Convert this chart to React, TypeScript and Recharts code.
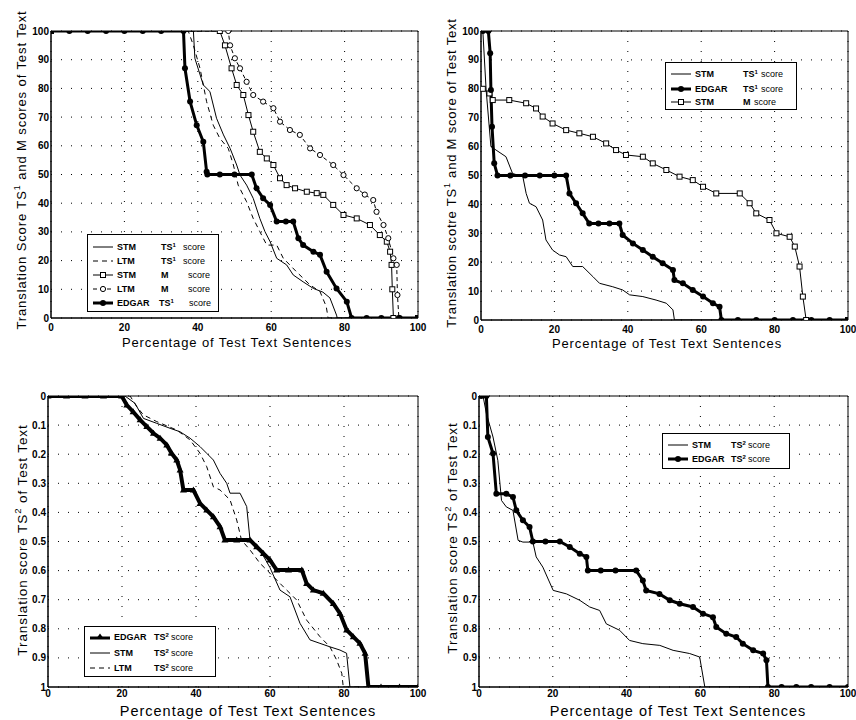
import React from 'react'
import {
  LineChart,
  Line,
  XAxis,
  YAxis,
  CartesianGrid,
  ReferenceArea,
} from 'recharts'

type Pt = [number, number]

// axis ticks
const xTicks = [0, 20, 40, 60, 80, 100]
const ts1Ticks = [0, 10, 20, 30, 40, 50, 60, 70, 80, 90, 100]
const ts2Ticks = [0, 0.1, 0.2, 0.3, 0.4, 0.5, 0.6, 0.7, 0.8, 0.9, 1]

// panel 1 (top left): TS1 and M scores
const p1StmTs1: Pt[] = [[0, 100], [38.8, 100], [39.2, 90.5], [41.5, 81.2], [43.3, 78.9], [45.1, 69.6], [47, 63.8], [48.8, 59.1], [50.6, 53.3], [51.5, 49.8], [53.3, 46.3], [55.1, 41.7], [56.9, 34.7], [58.3, 30.1], [59.7, 26.6], [61.5, 20.8], [64.2, 18.5], [66, 15], [68.7, 12.6], [71.5, 10.3], [74.1, 9], [76, 7], [77.8, 1], [78, 0], [100, 0]]
const p1LtmTs1: Pt[] = [[0, 100], [37.4, 100], [38.8, 95], [40.6, 87], [42.4, 75.4], [44.2, 67.2], [46, 62.6], [48.3, 59.1], [49.7, 53.3], [51, 46.3], [53.3, 40.5], [55.1, 34.7], [56.9, 30.1], [58.8, 25.4], [61.5, 25.4], [63.3, 20.8], [66.9, 16.1], [70.6, 11.5], [73.3, 9.2], [75, 4], [75.5, 0], [100, 0]]
const p1StmM: Pt[] = [[0, 100], [46, 100], [47.4, 95], [49.2, 87], [50.6, 81.2], [52.4, 77.7], [53.8, 70.7], [55.1, 64.9], [56.9, 57.9], [58.8, 55.6], [60.6, 53.3], [62.4, 48.7], [64.2, 46.3], [66.5, 45.2], [69.7, 44], [72.4, 43.5], [74.2, 42.9], [76.9, 39.4], [79.7, 35.9], [83.3, 34.7], [86.9, 32.4], [89.6, 28.9], [91.5, 26.6], [92.4, 23.1], [92.8, 18.5], [93, 10], [93.3, 0], [100, 0]]
const p1LtmM: Pt[] = [[0, 100], [48.3, 100], [48.8, 95], [50.1, 90.5], [51.5, 87], [53.3, 82.3], [55.1, 77.7], [57.8, 75.4], [60.6, 73.1], [62.4, 68.4], [65.1, 65.5], [67.8, 63.8], [70.6, 59.1], [73.3, 56.8], [76.9, 53.3], [79.7, 49.8], [83.3, 45.2], [85.5, 43], [87.8, 41.1], [88.7, 37], [90.6, 32.4], [91.9, 27.8], [93.3, 20.8], [94.2, 18.5], [94.4, 8], [94.8, 0], [100, 0]]
const p1Edgar: Pt[] = [[0, 100], [5, 100], [10, 100], [15, 100], [20, 100], [25, 100], [30, 100], [36.1, 100], [36.5, 87], [37.9, 75.4], [39.7, 67.2], [41.5, 61.4], [42.4, 51], [42.6, 50], [46, 50], [50, 50], [54.7, 50], [56, 45.2], [57.8, 41.7], [59.7, 39.4], [61.5, 33.6], [64, 33.6], [66, 33.6], [67.4, 27.8], [68.7, 25.4], [71.5, 23.1], [73.3, 22], [75.1, 16.1], [77.8, 10.3], [80.6, 5.7], [81.9, 0], [86, 0], [90, 0], [95, 0], [100, 0]]

// panel 2 (top right)
const p2StmTs1: Pt[] = [[0.5, 100], [1.4, 79.6], [2.7, 60], [4.1, 58.8], [6.8, 56.5], [8.6, 50.7], [11.4, 49.6], [12.3, 43.8], [13.2, 40.4], [15, 39.2], [16.8, 34.6], [17.7, 27.7], [19.5, 24.2], [21.4, 22.5], [23.2, 21.9], [25, 18.5], [27.7, 18.5], [30.5, 15], [32.3, 12.7], [35.9, 11.5], [38.6, 10.4], [40.5, 8.7], [44.1, 8.1], [47.7, 6.9], [50.5, 5.8], [52.3, 3.5], [52.7, 0], [100, 0]]
const p2Edgar: Pt[] = [[0.5, 100], [2, 100], [2.5, 92.3], [2.7, 79.6], [3, 66.9], [3.6, 54.2], [4.5, 50], [8, 50], [12, 50], [16, 50], [20, 50], [23.2, 50], [24.1, 43.8], [25.9, 40.4], [27.7, 36.9], [29.5, 33.4], [32, 33.4], [35, 33.4], [37.7, 33.4], [38.6, 29.4], [41.4, 26.5], [44.1, 24.2], [46.8, 21.9], [49.5, 19.6], [52.3, 17.3], [52.7, 13.8], [55, 12.7], [57.7, 10.4], [60.5, 8.1], [63.2, 5.8], [65, 4.6], [65.5, 0], [70, 0], [75, 0], [80, 0], [85, 0], [90, 0], [95, 0], [100, 0]]
const p2StmM: Pt[] = [[0.5, 80], [2.3, 78.4], [3.2, 76.1], [7.7, 76.1], [12.3, 75], [15, 73.2], [16.8, 70.4], [19.5, 68], [23.2, 65.7], [26.8, 64.6], [30.5, 63.4], [34.1, 61.1], [36.8, 58.8], [39.5, 57.1], [44.1, 56.5], [46.8, 54.2], [50.5, 51.9], [54.1, 49.6], [57.7, 48.4], [60.5, 46.1], [64.1, 43.8], [70.5, 43.8], [73.2, 40.4], [75, 36.9], [78.6, 34.6], [80.5, 30], [84.1, 28.8], [85.5, 25.4], [86.8, 18.5], [87.7, 8.1], [88.6, 0], [100, 0]]

// panel 3 (bottom left): TS2 scores
const p3Edgar: Pt[] = [[0, 0], [5, 0], [10, 0], [15, 0], [19.9, 0], [21.3, 0.031], [23, 0.054], [24.9, 0.082], [26.7, 0.105], [28.5, 0.128], [30.3, 0.145], [32.1, 0.168], [33.4, 0.197], [34.8, 0.22], [35.7, 0.254], [36.6, 0.323], [39.3, 0.323], [41.1, 0.369], [42.9, 0.392], [44.7, 0.415], [46.5, 0.449], [47.8, 0.495], [51, 0.495], [54.6, 0.495], [56.4, 0.518], [58.2, 0.541], [60, 0.564], [61.8, 0.598], [65, 0.598], [68.6, 0.598], [69.9, 0.644], [71.7, 0.667], [74.4, 0.678], [77.1, 0.713], [78.9, 0.747], [80.7, 0.804], [82.5, 0.827], [84.3, 0.85], [85.7, 0.884], [86.6, 1], [90, 1], [95, 1], [100, 1]]
const p3Stm: Pt[] = [[0, 0], [20.8, 0], [23.5, 0.025], [25.8, 0.077], [29.4, 0.094], [33, 0.111], [35.7, 0.123], [38.4, 0.145], [41.1, 0.174], [42.9, 0.197], [44.7, 0.22], [46.5, 0.266], [48.3, 0.3], [49.2, 0.334], [51.9, 0.334], [53.7, 0.38], [54.6, 0.495], [57.3, 0.529], [60, 0.59], [62.7, 0.667], [65.4, 0.69], [68.1, 0.781], [70.8, 0.838], [73.5, 0.85], [76.2, 0.862], [78.9, 0.873], [80.7, 0.884], [81.6, 1], [100, 1]]
const p3Ltm: Pt[] = [[0, 0], [22.2, 0], [24, 0.037], [25.8, 0.065], [29.4, 0.088], [34.8, 0.117], [38.4, 0.151], [41.1, 0.197], [42.9, 0.243], [44.7, 0.312], [46.5, 0.323], [49.2, 0.357], [51, 0.426], [52.3, 0.495], [54.6, 0.529], [57.3, 0.575], [60, 0.609], [62.7, 0.644], [67.2, 0.701], [69.9, 0.77], [73.5, 0.827], [76.2, 0.862], [78, 0.907], [79.4, 0.953], [79.8, 1], [100, 1]]

// panel 4 (bottom right)
const p4Edgar: Pt[] = [[0.6, 0], [2, 0], [2.4, 0.141], [3.8, 0.198], [4.7, 0.336], [7.4, 0.336], [9.2, 0.347], [10.1, 0.393], [11.9, 0.427], [13.7, 0.45], [14.6, 0.5], [18, 0.5], [21.9, 0.5], [24.6, 0.519], [27.3, 0.542], [29.1, 0.553], [29.5, 0.6], [33, 0.6], [37, 0.6], [42.6, 0.6], [44.4, 0.634], [45.3, 0.668], [48.9, 0.68], [51.7, 0.702], [54.4, 0.714], [58, 0.725], [60.7, 0.748], [63.4, 0.76], [64.3, 0.794], [67, 0.817], [69.7, 0.828], [71.5, 0.851], [74.3, 0.874], [77, 0.885], [77.9, 0.908], [78.3, 1], [82, 1], [86, 1], [90, 1], [95, 1], [100, 1]]
const p4Stm: Pt[] = [[1.1, 0], [2, 0.06], [3.8, 0.141], [5.1, 0.221], [6.1, 0.359], [7.4, 0.381], [9.2, 0.393], [10.6, 0.496], [11.9, 0.502], [14.6, 0.502], [15.5, 0.553], [17.3, 0.588], [20.1, 0.668], [23.7, 0.68], [27.3, 0.702], [30, 0.725], [32.7, 0.737], [34.5, 0.783], [38.1, 0.805], [40.8, 0.84], [44.4, 0.851], [49, 0.857], [52.6, 0.874], [57.1, 0.885], [59.8, 0.897], [61.2, 1], [100, 1]]

const FONT = '"Liberation Sans", Arial, Helvetica, sans-serif'

const rows = (pts: Pt[]) => pts.map(([x, y]) => ({ x, y }))

type DotProps = { cx?: number; cy?: number; index?: number }

const squareDot = ({ cx, cy, index }: DotProps) =>
  cx == null || cy == null ? <g key={index} /> : (
    <rect key={index} x={cx - 2.5} y={cy - 2.5} width={5} height={5} fill="#fff" stroke="#000" strokeWidth={1} />
  )
const circleDot = ({ cx, cy, index }: DotProps) =>
  cx == null || cy == null ? <g key={index} /> : (
    <circle key={index} cx={cx} cy={cy} r={2.6} fill="#fff" stroke="#000" strokeWidth={1} />
  )
const filledDot = ({ cx, cy, index }: DotProps) =>
  cx == null || cy == null ? <g key={index} /> : (
    <circle key={index} cx={cx} cy={cy} r={3} fill="#000" />
  )
const triDot = ({ cx, cy, index }: DotProps) =>
  cx == null || cy == null ? <g key={index} /> : (
    <path key={index} d={`M${cx},${cy - 3.5}L${cx + 3.5},${cy + 2.5}L${cx - 3.5},${cy + 2.5}Z`} fill="#000" />
  )

type Series = { name: string; data: Pt[]; width: number; dash?: string; dot?: any }

type PanelProps = {
  left: number
  top: number
  margin: { top: number; right: number; bottom: number; left: number }
  yTicks: number[]
  reversed?: boolean
  tickGap: number
  series: Series[]
  xLabel: { x: number; y: number; size: number; spacing: number }
  yLabel: { x: number; y: number; size: number; spacing: number; pre: string; sup: string; post: string }
}

const fmtTs2 = (v: number) => (v === 0 ? '0' : v === 1 ? '1' : v.toFixed(1))

function Panel({ left, top, margin, yTicks, reversed, tickGap, series, xLabel, yLabel }: PanelProps) {
  const yMax = yTicks[yTicks.length - 1]
  return (
    <div style={{ position: 'absolute', left, top }}>
      <LineChart width={428} height={360} margin={margin}>
        <CartesianGrid stroke="#000" strokeDasharray="1 9" strokeWidth={1} />
        <XAxis
          type="number"
          dataKey="x"
          domain={[0, 100]}
          ticks={xTicks}
          allowDataOverflow
          height={30}
          tickLine={false}
          tickSize={tickGap}
          tickMargin={2}
          axisLine={{ stroke: '#000' }}
          tick={{ fontSize: 10, fontWeight: 700, fill: '#000', fontFamily: FONT }}
          label={{
            content: () => (
              <text
                x={xLabel.x}
                y={xLabel.y}
                textAnchor="middle"
                fontSize={xLabel.size}
                letterSpacing={xLabel.spacing}
                fontFamily={FONT}
                fill="#000"
              >
                Percentage of Test Text Sentences
              </text>
            ),
          }}
        />
        <YAxis
          type="number"
          domain={[0, yMax]}
          ticks={yTicks}
          reversed={reversed}
          allowDataOverflow
          width={30}
          tickLine={false}
          tickSize={2}
          tickMargin={0}
          interval={0}
          axisLine={{ stroke: '#000' }}
          tickFormatter={yMax === 1 ? fmtTs2 : undefined}
          tick={{ fontSize: 10, fontWeight: 700, fill: '#000', fontFamily: FONT }}
          label={{
            content: () => (
              <text
                x={yLabel.x}
                y={yLabel.y}
                transform={`rotate(-90 ${yLabel.x} ${yLabel.y})`}
                textAnchor="middle"
                fontSize={yLabel.size}
                letterSpacing={yLabel.spacing}
                fontFamily={FONT}
                fill="#000"
              >
                {yLabel.pre}
                <tspan dy={-6} fontSize={yLabel.size - 4}>{yLabel.sup}</tspan>
                <tspan dy={6}>{yLabel.post}</tspan>
              </text>
            ),
          }}
        />
        <ReferenceArea x1={0} x2={100} y1={0} y2={yMax} fill="none" fillOpacity={0} stroke="#000" strokeWidth={1} />
        {series.map((s) => (
          <Line
            key={s.name}
            name={s.name}
            data={rows(s.data)}
            dataKey="y"
            type="linear"
            stroke="#000"
            strokeWidth={s.width}
            strokeDasharray={s.dash}
            dot={s.dot ?? false}
            activeDot={false}
            isAnimationActive={false}
          />
        ))}
      </LineChart>
    </div>
  )
}

type Swatch = 'solid' | 'dashed' | 'square' | 'circle' | 'thickDot' | 'thickTri'
type LegendRow = { swatch: Swatch; name: string; kind: string; sup?: string; y: number; kindX: number; scoreX: number }

function SwatchIcon({ kind }: { kind: Swatch }) {
  return (
    <svg width={22} height={10} style={{ position: 'absolute', left: 0, top: -5 }}>
      {kind === 'solid' && <line x1={1} y1={5} x2={21} y2={5} stroke="#000" strokeWidth={1} />}
      {kind === 'dashed' && <line x1={1} y1={5} x2={21} y2={5} stroke="#000" strokeWidth={1} strokeDasharray="5 4" />}
      {kind === 'square' && (
        <>
          <line x1={1} y1={5} x2={21} y2={5} stroke="#000" strokeWidth={1} />
          <rect x={8.5} y={2.5} width={5} height={5} fill="#fff" stroke="#000" />
        </>
      )}
      {kind === 'circle' && (
        <>
          <line x1={1} y1={5} x2={21} y2={5} stroke="#000" strokeWidth={1} strokeDasharray="4 3" />
          <circle cx={11} cy={5} r={2.6} fill="#fff" stroke="#000" />
        </>
      )}
      {kind === 'thickDot' && (
        <>
          <line x1={1} y1={5} x2={21} y2={5} stroke="#000" strokeWidth={3} />
          <circle cx={11} cy={5} r={3} fill="#000" />
        </>
      )}
      {kind === 'thickTri' && (
        <>
          <line x1={1} y1={6} x2={21} y2={6} stroke="#000" strokeWidth={3} />
          <path d="M11,1.5L15,7L7,7Z" fill="#000" />
        </>
      )}
    </svg>
  )
}

function LegendBox({ left, top, width, height, items }: { left: number; top: number; width: number; height: number; items: LegendRow[] }) {
  return (
    <div
      style={{
        position: 'absolute',
        left,
        top,
        width,
        height,
        border: '1px solid #000',
        background: '#fff',
        boxSizing: 'border-box',
        fontFamily: FONT,
        fontSize: 9,
        fontWeight: 700,
        lineHeight: '10px',
        color: '#000',
      }}
    >
      {items.map((r) => (
        <div key={r.name + r.kind + r.y} style={{ position: 'absolute', left: 4, top: r.y - top }}>
          <SwatchIcon kind={r.swatch} />
          <span style={{ position: 'absolute', left: 25, top: -5, whiteSpace: 'nowrap' }}>{r.name}</span>
          <span style={{ position: 'absolute', left: r.kindX - left - 4, top: -5, whiteSpace: 'nowrap' }}>
            {r.kind}
            {r.sup && <sup style={{ fontSize: 6, verticalAlign: 'top', lineHeight: '6px' }}>{r.sup}</sup>}
          </span>
          <span style={{ position: 'absolute', left: r.scoreX - left - 4, top: -5, whiteSpace: 'nowrap', fontWeight: 400 }}>score</span>
        </div>
      ))}
    </div>
  )
}

export default function App() {
  return (
    <div style={{ position: 'absolute', left: 0, top: 0, width: 856, height: 720, background: '#fff', overflow: 'hidden' }}>
      <Panel
        left={0}
        top={0}
        margin={{ top: 31, right: 10, bottom: 12, left: 21 }}
        yTicks={ts1Ticks}
        tickGap={4}
        series={[
          { name: 'STM TS1', data: p1StmTs1, width: 1 },
          { name: 'LTM TS1', data: p1LtmTs1, width: 1, dash: '5 4' },
          { name: 'STM M', data: p1StmM, width: 1, dot: squareDot },
          { name: 'LTM M', data: p1LtmM, width: 1, dash: '4 3', dot: circleDot },
          { name: 'EDGAR TS1', data: p1Edgar, width: 3, dot: filledDot },
        ]}
        xLabel={{ x: 237, y: 347, size: 13, spacing: 0.9 }}
        yLabel={{ x: 26, y: 170, size: 13, spacing: 0.9, pre: 'Translation Score TS', sup: '1', post: ' and M scores of Test Text' }}
      />
      <Panel
        left={428}
        top={0}
        margin={{ top: 31, right: 8, bottom: 10, left: 23 }}
        yTicks={ts1Ticks}
        tickGap={4}
        series={[
          { name: 'STM TS1', data: p2StmTs1, width: 1 },
          { name: 'STM M', data: p2StmM, width: 1, dot: squareDot },
          { name: 'EDGAR TS1', data: p2Edgar, width: 3, dot: filledDot },
        ]}
        xLabel={{ x: 239, y: 348, size: 13, spacing: 0.9 }}
        yLabel={{ x: 28, y: 173, size: 13, spacing: 0.8, pre: 'Translation scotre TS', sup: '1', post: ' and M score of Test Text' }}
      />
      <Panel
        left={0}
        top={360}
        margin={{ top: 36, right: 10, bottom: 3, left: 18 }}
        yTicks={ts2Ticks}
        reversed
        tickGap={1}
        series={[
          { name: 'STM TS2', data: p3Stm, width: 1 },
          { name: 'LTM TS2', data: p3Ltm, width: 1, dash: '5 4' },
          { name: 'EDGAR TS2', data: p3Edgar, width: 4, dot: triDot },
        ]}
        xLabel={{ x: 248, y: 356, size: 14.5, spacing: 1 }}
        yLabel={{ x: 27, y: 180, size: 13.5, spacing: 0.9, pre: 'Translation score TS', sup: '2', post: ' of Test Text' }}
      />
      <Panel
        left={428}
        top={360}
        margin={{ top: 36, right: 8, bottom: 3, left: 21 }}
        yTicks={ts2Ticks}
        reversed
        tickGap={1}
        series={[
          { name: 'STM TS2', data: p4Stm, width: 1 },
          { name: 'EDGAR TS2', data: p4Edgar, width: 3, dot: filledDot },
        ]}
        xLabel={{ x: 250, y: 356, size: 14.5, spacing: 1 }}
        yLabel={{ x: 29, y: 178, size: 13.5, spacing: 0.9, pre: 'Translation score TS', sup: '2', post: ' of Test Text' }}
      />

      <LegendBox
        left={87}
        top={234}
        width={132}
        height={78}
        items={[
          { swatch: 'solid', name: 'STM', kind: 'TS', sup: '1', y: 246, kindX: 160, scoreX: 182 },
          { swatch: 'dashed', name: 'LTM', kind: 'TS', sup: '1', y: 260, kindX: 160, scoreX: 182 },
          { swatch: 'square', name: 'STM', kind: 'M', y: 274, kindX: 160, scoreX: 187 },
          { swatch: 'circle', name: 'LTM', kind: 'M', y: 288, kindX: 160, scoreX: 187 },
          { swatch: 'thickDot', name: 'EDGAR', kind: 'TS', sup: '1', y: 302, kindX: 158, scoreX: 188 },
        ]}
      />
      <LegendBox
        left={665}
        top={62}
        width={132}
        height={48}
        items={[
          { swatch: 'solid', name: 'STM', kind: 'TS', sup: '1', y: 73, kindX: 742, scoreX: 760 },
          { swatch: 'thickDot', name: 'EDGAR', kind: 'TS', sup: '1', y: 88, kindX: 742, scoreX: 760 },
          { swatch: 'square', name: 'STM', kind: 'M', y: 101, kindX: 742, scoreX: 753 },
        ]}
      />
      <LegendBox
        left={84}
        top={626}
        width={132}
        height={51}
        items={[
          { swatch: 'thickTri', name: 'EDGAR', kind: 'TS', sup: '2', y: 636, kindX: 153, scoreX: 170 },
          { swatch: 'solid', name: 'STM', kind: 'TS', sup: '2', y: 652, kindX: 153, scoreX: 170 },
          { swatch: 'dashed', name: 'LTM', kind: 'TS', sup: '2', y: 667, kindX: 153, scoreX: 170 },
        ]}
      />
      <LegendBox
        left={662}
        top={433}
        width={128}
        height={36}
        items={[
          { swatch: 'solid', name: 'STM', kind: 'TS', sup: '2', y: 444, kindX: 730, scoreX: 747 },
          { swatch: 'thickDot', name: 'EDGAR', kind: 'TS', sup: '2', y: 458, kindX: 730, scoreX: 747 },
        ]}
      />
    </div>
  )
}
